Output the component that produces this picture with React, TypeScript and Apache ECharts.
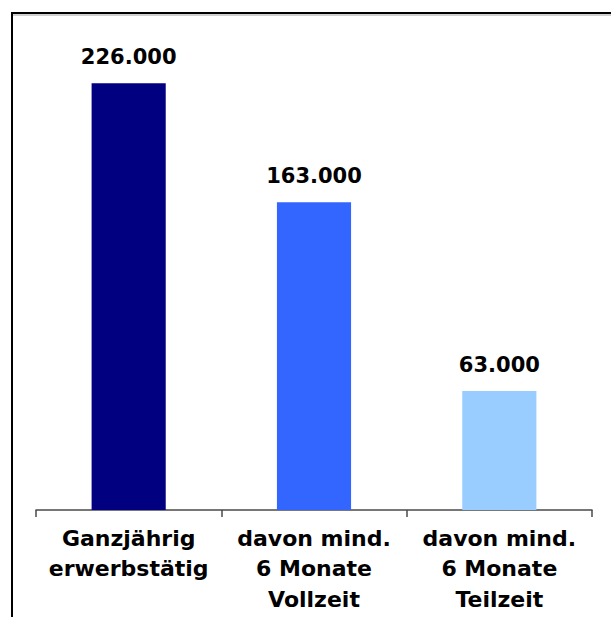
import React, { useEffect, useRef } from "react";
import * as echarts from "echarts";

const categories = [
  "Ganzjährig\nerwerbstätig",
  "davon mind.\n6 Monate\nVollzeit",
  "davon mind.\n6 Monate\nTeilzeit",
];
const values = [226000, 163000, 63000];
const barColors = ["#000080", "#3366FF", "#99CCFF"];

function formatDE(v: number): string {
  return String(Math.round(v)).replace(/\B(?=(\d{3})+(?!\d))/g, ".");
}

export default function App() {
  const ref = useRef<HTMLDivElement>(null);
  useEffect(() => {
    if (!ref.current) return;
    const chart = echarts.init(ref.current, undefined, { renderer: "svg" });
    chart.setOption({
      animation: false,
      backgroundColor: "#ffffff",
      grid: { left: 36, right: 19, top: 38, bottom: 107, containLabel: false },
      xAxis: {
        type: "category",
        data: categories,
        axisLine: { show: true, lineStyle: { color: "#4a4a4a", width: 1.5 } },
        axisTick: { show: true, length: 7, lineStyle: { color: "#4a4a4a", width: 1.5 } },
        axisLabel: {
          interval: 0,
          margin: 13,
          color: "#000000",
          fontFamily: "DejaVu Sans",
          fontWeight: "bold",
          fontSize: 22,
          lineHeight: 30.5,
          align: "center",
        },
      },
      yAxis: {
        type: "value",
        min: 0,
        max: 250000,
        show: false,
        splitLine: { show: false },
      },
      series: [
        {
          type: "bar",
          barWidth: "40%",
          data: values.map((v, i) => ({ value: v, itemStyle: { color: barColors[i] } })),
          label: {
            show: true,
            position: "top",
            distance: 16,
            color: "#000000",
            fontFamily: "DejaVu Sans",
            fontWeight: "bold",
            fontSize: 21,
            formatter: (p: any) => formatDE(p.value),
          },
        },
      ],
      graphic: [
        {
          type: "rect",
          shape: { x: 12, y: 13, width: 640, height: 640 },
          style: { fill: "none", stroke: "#000000", lineWidth: 2 },
          silent: true,
        },
        {
          type: "line",
          shape: { x1: 13, y1: 15, x2: 640, y2: 15 },
          style: { stroke: "#a0a0a0", lineWidth: 1 },
          silent: true,
        },
      ],
    });
    return () => chart.dispose();
  }, []);
  return (
    <div
      ref={ref}
      style={{ position: "fixed", left: 0, top: 0, width: 611, height: 617 }}
    />
  );
}
